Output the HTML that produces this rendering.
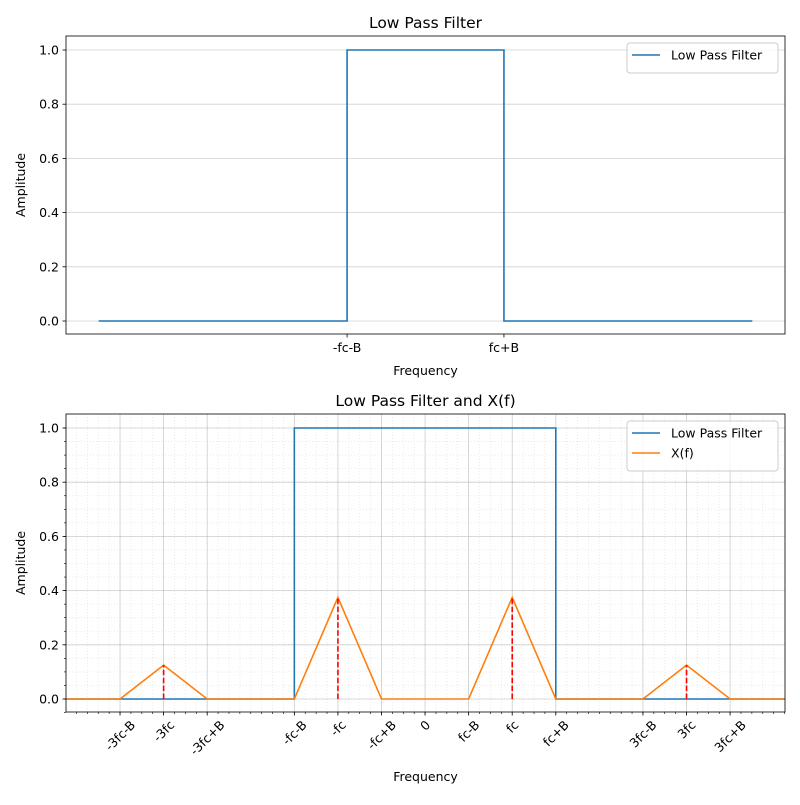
<!DOCTYPE html>
<html><head><meta charset="utf-8"><style>body{margin:0;background:#fff}svg{font-family:"DejaVu Sans","Liberation Sans",sans-serif}</style></head>
<body>
<svg id="c" width="800" height="800" xmlns="http://www.w3.org/2000/svg"></svg>
<script>
const topLpfX = [-12.5, -3, -3, 3, 3, 12.5];
const topLpfY = [0, 0, 1, 1, 0, 0];
const topTickVals = [-3, 3];
const topTickLabels = ['-fc-B', 'fc+B'];
const yTicks = [0, 0.2, 0.4, 0.6, 0.8, 1.0];
const yTickLabels = ['0.0','0.2','0.4','0.6','0.8','1.0'];
const botLpfX = [-10, -3, -3, 3, 3, 10];
const botLpfY = [0, 0, 1, 1, 0, 0];
const xfX = [-10, -7, -6, -5, -3, -2, -1, 1, 2, 3, 5, 6, 7, 10];
const xfY = [0, 0, 0.125, 0, 0, 0.375, 0, 0, 0.375, 0, 0, 0.125, 0, 0];
const stemX = [-6, -2, 2, 6];
const stemY = [0.125, 0.375, 0.375, 0.125];
const botTickVals = [-7,-6,-5,-3,-2,-1,0,1,2,3,5,6,7];
const botTickLabels = ['-3fc-B','-3fc','-3fc+B','-fc-B','-fc','-fc+B','0','fc-B','fc','fc+B','3fc-B','3fc','3fc+B'];

const svg = document.getElementById('c');
const NS = 'http://www.w3.org/2000/svg';
function el(t, a, p) { const e = document.createElementNS(NS, t); for (const k in a) e.setAttribute(k, a[k]); (p || svg).appendChild(e); return e; }

function panel(o) {
  const g = el('g', {});
  
  
  const L = 66, R = 785, T = o.top, B = o.top + 298;
  const y0 = o.top + 285, y1 = o.top + 14;
  const sx = v => L + (v - o.xmin) / (o.xmax - o.xmin) * (R - L);
  const sy = v => y0 + (y1 - y0) * v;
  const clip = el('clipPath', { id: 'cl' + o.top }, g);
  el('rect', { x: L, y: T, width: R - L, height: B - T }, clip);
  const grid = el('g', { 'clip-path': 'url(#cl' + o.top + ')' }, g);
  
  
  if (o.minor) {
    for (let v = Math.ceil(o.xmin * 4) / 4; v <= o.xmax; v += 0.25) {
      el('line', { x1: sx(v), x2: sx(v), y1: T, y2: B, stroke: '#e6e6e6', 'stroke-width': 0.8, 'stroke-dasharray': '1,2' }, grid);
      el('line', { x1: sx(v), x2: sx(v), y1: B, y2: B + 2, stroke: '#000', 'stroke-width': 0.6 }, g);
    }
    for (let v = -0.05; v <= 1.05; v += 0.05) {
      el('line', { x1: L, x2: R, y1: sy(v), y2: sy(v), stroke: '#e6e6e6', 'stroke-width': 0.8, 'stroke-dasharray': '1,2' }, grid);
      el('line', { x1: L - 2, x2: L, y1: sy(v), y2: sy(v), stroke: '#000', 'stroke-width': 0.6 }, g);
    }
    o.ticks.forEach(v => el('line', { x1: sx(v), x2: sx(v), y1: T, y2: B, stroke: '#b0b0b0', 'stroke-width': 0.8, 'stroke-opacity': 0.6 }, grid));
  }
  yTicks.forEach((v, i) => {
    el('line', { x1: L, x2: R, y1: sy(v), y2: sy(v), stroke: '#b0b0b0', 'stroke-width': 0.8, 'stroke-opacity': 0.6 }, grid);
    el('line', { x1: L - 3.5, x2: L, y1: sy(v), y2: sy(v), stroke: '#000', 'stroke-width': 0.8 }, g);
    const t = el('text', { x: L - 7, y: sy(v) + 4.5, 'text-anchor': 'end', 'font-size': 12.5 }, g);
    t.textContent = yTickLabels[i];
  });
  o.ticks.forEach((v, i) => {
    el('line', { x1: sx(v), x2: sx(v), y1: B, y2: B + 3.5, stroke: '#000', 'stroke-width': 0.8 }, g);
    const t = el('text', { 'font-size': 12.5 }, g);
    
    
    t.textContent = o.labels[i];
    if (o.rot) {
      t.setAttribute('text-anchor', 'middle');
      const w = t.getComputedTextLength();
      const cy = B + 6 + (w + 13) * 0.7071 / 2;
      t.setAttribute('transform', `translate(${sx(v)},${cy}) rotate(-45)`);
      t.setAttribute('y', 4.5);
    } else { t.setAttribute('text-anchor', 'middle'); t.setAttribute('x', sx(v)); t.setAttribute('y', B + 18); }
  });
  const data = el('g', { 'clip-path': 'url(#cl' + o.top + ')' }, g);
  o.series.forEach(s => {
    const p = el('polyline', { points: s.x.map((v, i) => sx(v) + ',' + sy(s.y[i])).join(' '), fill: 'none', stroke: s.c, 'stroke-width': 1.6 }, data);
    
    
  });
  if (o.stems) stemX.forEach((v, i) => {
    const l = el('line', { x1: sx(v), x2: sx(v), y1: sy(0), y2: sy(stemY[i]), stroke: '#ff0000', 'stroke-width': 1.6, 'stroke-dasharray': '5.5,2.4' }, data);
    
    
  });
  el('rect', { x: L, y: T, width: R - L, height: B - T, fill: 'none', stroke: '#000', 'stroke-width': 0.8 }, g);
  const tt = el('text', { x: (L + R) / 2, y: T - 8, 'text-anchor': 'middle', 'font-size': 15.5 }, g);
  tt.textContent = o.title;
  const xl = el('text', { x: (L + R) / 2, y: o.top + 339 + (o.rot ? 28 : 0), 'text-anchor': 'middle', 'font-size': 12.5 }, g);
  xl.textContent = 'Frequency';
  const yl = el('text', { 'text-anchor': 'middle', 'font-size': 12.5, transform: `translate(25,${(T + B) / 2}) rotate(-90)` }, g);
  yl.textContent = 'Amplitude';
  const lg = el('g', {}, g);
  
  
  const lh = 10 + o.series.length * 20;
  el('rect', { x: 627, y: T + 7, width: 151, height: lh, fill: '#fff', 'fill-opacity': 0.8, stroke: '#ccc', rx: 3 }, lg);
  o.series.forEach((s, i) => {
    const yy = T + 19 + i * 20;
    el('line', { x1: 632, x2: 660, y1: yy, y2: yy, stroke: s.c, 'stroke-width': 1.6 }, lg);
    const t = el('text', { x: 671, y: yy + 4.5, 'font-size': 12.5 }, lg);
    t.textContent = s.label;
  });
}
panel({ name: 'top-panel', top: 36, xmin: -13.75, xmax: 13.75, ticks: topTickVals, labels: topTickLabels, title: 'Low Pass Filter',
  series: [{ x: topLpfX, y: topLpfY, c: '#1f77b4', label: 'Low Pass Filter', name: 'lpf-line' }] });
panel({ name: 'bottom-panel', top: 414, xmin: -8.24, xmax: 8.26, ticks: botTickVals, labels: botTickLabels, title: 'Low Pass Filter and X(f)', minor: true, rot: true, stems: true,
  series: [{ x: botLpfX, y: botLpfY, c: '#1f77b4', label: 'Low Pass Filter', name: 'lpf-line' }, { x: xfX, y: xfY, c: '#ff7f0e', label: 'X(f)', name: 'xf-line' }] });
</script>
</body></html>
